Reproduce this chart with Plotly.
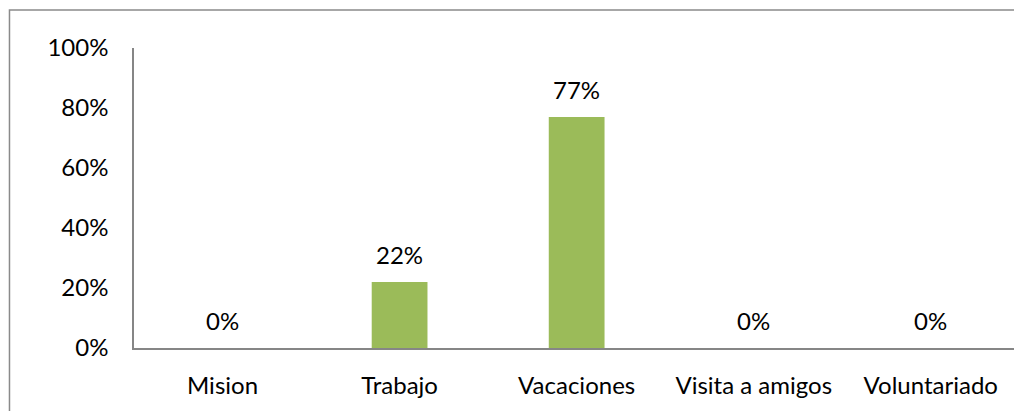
import plotly.graph_objects as go

categories = ["Mision", "Trabajo", "Vacaciones", "Visita a amigos", "Voluntariado"]
values = [0.0, 0.22, 0.77, 0.0, 0.0]
labels = ["0%", "22%", "77%", "0%", "0%"]
y_ticks = [0, 0.2, 0.4, 0.6, 0.8, 1.0]
y_tick_text = ["0%", "20%", "40%", "60%", "80%", "100%"]

FONT = "Lato, 'Open Sans', sans-serif"
FS = 24

fig = go.Figure()
fig.add_trace(go.Bar(
    x=categories, y=values,
    marker=dict(color="#9BBB59", line=dict(width=0)),
    width=0.315,
    hoverinfo="skip",
))

for c, v, t in zip(categories, values, labels):
    fig.add_annotation(x=c, y=v, text=t, showarrow=False, yanchor="bottom",
                       yshift=11, font=dict(family=FONT, size=FS, color="#000000"))

fig.add_shape(type="rect", xref="paper", yref="paper",
              x0=-0.1415, x1=1.2, y0=-0.4, y1=1.127,
              line=dict(color="#8A8A8A", width=1.5), fillcolor="rgba(0,0,0,0)",
              layer="below")

fig.update_layout(
    width=1014, height=411,
    margin=dict(l=134, r=0, t=48, b=63),
    paper_bgcolor="white", plot_bgcolor="white",
    showlegend=False,
    font=dict(family=FONT, size=FS, color="#000000"),
)
fig.update_xaxes(
    range=[-0.5, 4.47],
    showline=True, linecolor="#868686", linewidth=1.5,
    showgrid=False, zeroline=False,
    ticks="outside", ticklen=15, tickcolor="rgba(0,0,0,0)",
    tickfont=dict(family=FONT, size=FS, color="#000000"),
)
fig.update_yaxes(
    range=[0, 1],
    tickvals=y_ticks, ticktext=y_tick_text,
    showline=True, linecolor="#868686", linewidth=1.5,
    showgrid=False, zeroline=False,
    ticks="outside", ticklen=19, tickcolor="rgba(0,0,0,0)",
    tickfont=dict(family=FONT, size=FS, color="#000000"),
)

fig.write_html("out.html", config={"displayModeBar": False},
               post_script="document.body.style.margin='0';document.body.style.overflow='hidden';")
